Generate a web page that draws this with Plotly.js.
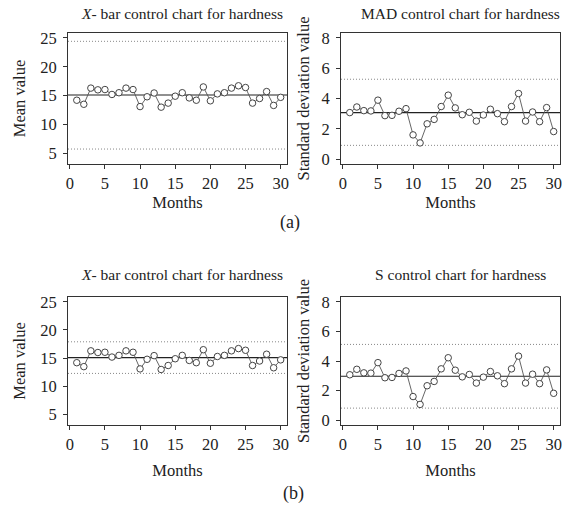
<!DOCTYPE html>
<html>
<head>
<meta charset="utf-8">
<script src="https://cdn.plot.ly/plotly-3.0.1.min.js"></script>
<style>html,body{margin:0;padding:0;background:#fff;} #chart{width:568px;height:510px;}</style>
</head>
<body>
<div id="chart"></div>
<script>
// Data
const months = Array.from({length: 30}, (_, i) => i + 1);
const meanValues = [14.2, 13.5, 16.3, 16.0, 16.05, 15.2, 15.5, 16.3, 16.05, 13.1,
                    14.8, 15.45, 13.0, 13.7, 14.9, 15.5, 14.6, 14.2, 16.5, 14.1,
                    15.3, 15.5, 16.3, 16.7, 16.4, 13.7, 14.5, 15.7, 13.3, 14.7];
const sdValues = [3.07, 3.44, 3.2, 3.18, 3.89, 2.87, 2.89, 3.16, 3.33, 1.6,
                  1.07, 2.33, 2.62, 3.47, 4.22, 3.38, 2.93, 3.09, 2.51, 2.91,
                  3.29, 3.0, 2.47, 3.47, 4.33, 2.51, 3.11, 2.47, 3.4, 1.82];
// [LCL, CL, UCL] per panel
const xbarLimitsA = [5.75, 15.1, 24.4];
const madLimits   = [0.91, 3.07, 5.27];
const xbarLimitsB = [12.3, 15.1, 17.9];
const sLimits     = [0.82, 2.97, 5.12];
const panelTitles = ["<i>X</i>- bar control chart for hardness", "MAD control chart for hardness",
                     "<i>X</i>- bar control chart for hardness", "S control chart for hardness"];
const xTicks = [0, 5, 10, 15, 20, 25, 30];
const meanTicks = [5, 10, 15, 20, 25];
const sdTicks = [0, 2, 4, 6, 8];

const FONT = "Liberation Serif";
const W = 568, H = 510;

const panels = [
  {y: meanValues, lim: xbarLimitsA, xa: 'x',  ya: 'y'},
  {y: sdValues,   lim: madLimits,   xa: 'x2', ya: 'y2'},
  {y: meanValues, lim: xbarLimitsB, xa: 'x3', ya: 'y3'},
  {y: sdValues,   lim: sLimits,     xa: 'x4', ya: 'y4'},
];

const traces = panels.map(p => ({
  x: months, y: p.y, xaxis: p.xa, yaxis: p.ya,
  type: 'scatter', mode: 'lines+markers',
  line: {color: '#555', width: 0.9},
  marker: {symbol: 'circle', size: 6.5, color: '#fff', line: {color: '#444', width: 1}},
  hoverinfo: 'x+y', showlegend: false, cliponaxis: false
}));

const shapes = [];
panels.forEach(p => {
  p.lim.forEach((v, k) => {
    shapes.push({
      type: 'line', xref: p.xa + ' domain', yref: p.ya,
      x0: 0, x1: 1, y0: v, y1: v, layer: 'below',
      line: k === 1 ? {color: '#222', width: 1.1} : {color: '#888', width: 1, dash: '1px,2px'}
    });
  });
});

function px(a, b) { return [a / W, b / W]; }
function py(top, bottom) { return [1 - bottom / H, 1 - top / H]; }

const tickFont = {family: FONT, size: 16.5, color: '#222'};
const titleFont = {family: FONT, size: 16.5, color: '#222'};
function xax(domain, anchor, standoff) {
  return {
    domain: domain, anchor: anchor, range: [-0.25, 30.9],
    tickvals: xTicks, ticks: 'outside', ticklen: 4, tickcolor: '#333', tickwidth: 1,
    showline: true, mirror: true, linecolor: '#333', linewidth: 1,
    showgrid: false, zeroline: false, tickfont: tickFont,
    title: {text: 'Months', font: titleFont, standoff: standoff}
  };
}
function yax(domain, anchor, range, ticks, title, standoff) {
  return {
    domain: domain, anchor: anchor, range: range,
    tickvals: ticks, ticks: 'outside', ticklen: 4, tickcolor: '#333', tickwidth: 1,
    showline: true, mirror: true, linecolor: '#333', linewidth: 1,
    showgrid: false, zeroline: false, tickfont: tickFont, ticklabelstandoff: 3,
    title: {text: title, font: titleFont, standoff: standoff}
  };
}

const dL = px(68, 287), dR = px(341, 560);
const dTop = py(33, 164), dBot = py(297, 425);

const layout = {
  width: W, height: H,
  margin: {l: 0, r: 0, t: 0, b: 0},
  paper_bgcolor: '#fff', plot_bgcolor: '#fff',
  font: {family: FONT, color: '#222'},
  showlegend: false,
  xaxis:  xax(dL, 'y', 4),
  yaxis:  yax(dTop, 'x', [3.16, 25.84], meanTicks, 'Mean value', 10),
  xaxis2: xax(dR, 'y2', 4),
  yaxis2: yax(dTop, 'x2', [-0.32, 8.32], sdTicks, 'Standard deviation value', 7),
  xaxis3: xax(dL, 'y3', 11),
  yaxis3: yax(dBot, 'x3', [3.16, 25.84], meanTicks, 'Mean value', 10),
  xaxis4: xax(dR, 'y4', 11),
  yaxis4: yax(dBot, 'x4', [-0.32, 8.32], sdTicks, 'Standard deviation value', 7),
  shapes: shapes,
  annotations: [
    {text: panelTitles[0], x: 182 / W, y: 1 - 13 / H},
    {text: panelTitles[1], x: 460 / W, y: 1 - 13 / H},
    {text: panelTitles[2], x: 182 / W, y: 1 - 274 / H},
    {text: panelTitles[3], x: 460 / W, y: 1 - 274 / H},
    {text: '(a)', x: 290 / W, y: 1 - 222 / H, size: 18},
    {text: '(b)', x: 293 / W, y: 1 - 493 / H, size: 18}
  ].map(a => ({
    text: a.text, x: a.x, y: a.y, xref: 'paper', yref: 'paper',
    xanchor: 'center', yanchor: 'middle', showarrow: false,
    font: {family: FONT, size: a.size || 15.5, color: '#222'}
  }))
};

Plotly.newPlot('chart', traces, layout, {displayModeBar: false, staticPlot: true});
</script>
</body>
</html>
